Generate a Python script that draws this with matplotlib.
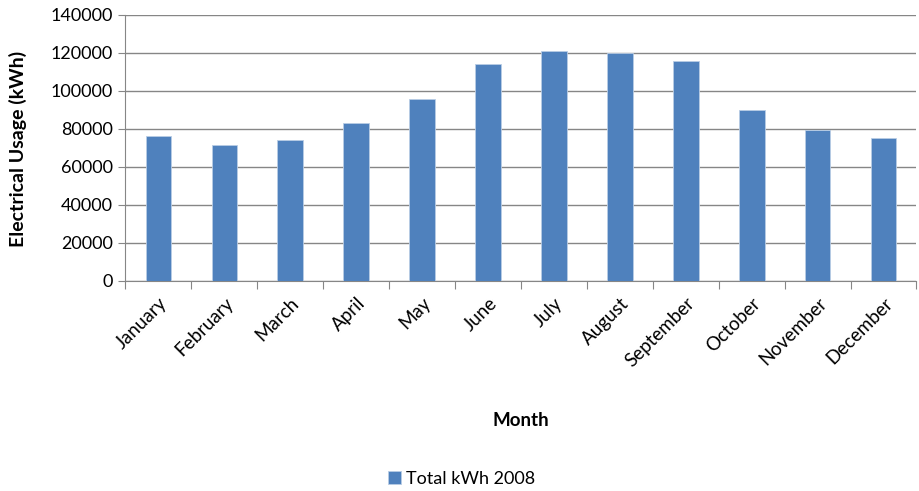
import matplotlib.pyplot as plt
import numpy as np

plt.rcParams['font.family'] = ['Lato', 'DejaVu Sans']

months = ['January', 'February', 'March', 'April', 'May', 'June', 'July',
          'August', 'September', 'October', 'November', 'December']
total_kwh = [76300, 71300, 74000, 82800, 95600, 113900, 120900,
             119900, 115400, 89700, 79100, 75300]

fig = plt.figure(figsize=(9.2, 4.91), dpi=100)
ax = fig.add_axes([125.5 / 920, 1 - 280.7 / 491, 791 / 920, 266 / 491])

x = np.arange(len(months))
bars = ax.bar(x, total_kwh, width=0.39, color='#4F81BD', edgecolor='#B9CDE5',
              linewidth=0.6, label='Total kWh 2008', zorder=3)

ax.set_xlim(-0.5, len(months) - 0.5)
ax.set_ylim(0, 140000)
ax.set_yticks(np.arange(0, 140001, 20000))
ax.tick_params(axis='y', labelsize=13, length=5, color='#868686', pad=4)

# ticks between categories, labels at the bar centres
ax.set_xticks(np.arange(-0.5, len(months), 1))
ax.set_xticklabels([])
ax.set_xticks(x, minor=True)
ax.set_xticklabels(months, minor=True, rotation=45, ha='right',
                   rotation_mode='anchor', fontsize=13.5)
ax.tick_params(axis='x', which='major', length=6, color='#868686')
ax.tick_params(axis='x', which='minor', length=0, pad=10)

ax.grid(axis='y', color='#868686', linewidth=1, zorder=0)
for side in ['top', 'right']:
    ax.spines[side].set_visible(False)
ax.spines['left'].set_color('#868686')
ax.spines['bottom'].set_color('#868686')

fig.text(18 / 920, 1 - 149 / 491, 'Electrical Usage (kWh)', fontsize=14,
         fontweight='bold', rotation=90, ha='center', va='center')
fig.text(0.5 * (125.5 + 916.5) / 920, 1 - 421 / 491, 'Month', fontsize=13.5,
         fontweight='bold', ha='center', va='center')

fig.legend(handles=[bars], loc='center', bbox_to_anchor=(462 / 920, 1 - 479 / 491),
           frameon=False, fontsize=13, handlelength=0.7, handleheight=0.7,
           handletextpad=0.3)

fig.savefig('out.png', dpi=100)
